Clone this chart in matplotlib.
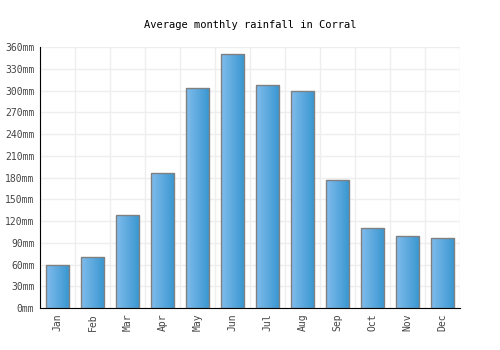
import numpy as np
import matplotlib
matplotlib.use("Agg")
import matplotlib.pyplot as plt
from matplotlib.colors import LinearSegmentedColormap

months = ["Jan", "Feb", "Mar", "Apr", "May", "Jun",
          "Jul", "Aug", "Sep", "Oct", "Nov", "Dec"]
rainfall = [60, 70, 128, 186, 304, 350, 308, 300, 177, 110, 100, 96]
y_ticks = list(range(0, 361, 30))
y_labels = [str(v) + "mm" for v in y_ticks]

plt.rcParams['font.family'] = ['DejaVu Sans Mono']

fig = plt.figure(figsize=(5, 3.5), dpi=100)
ax = fig.add_axes([0.08, 0.12, 0.84, 0.7457])

x = np.arange(len(months))
bars = ax.bar(x, rainfall, width=0.66, color='none', edgecolor='#808080',
              linewidth=1.0, zorder=3)

# horizontal gradient fill for every bar
cmap = LinearSegmentedColormap.from_list("blu", ["#80bcec", "#3896d0"])
grad = np.linspace(0, 1, 64).reshape(1, -1)
for b in bars:
    x0, y0 = b.get_x(), b.get_y()
    w, h = b.get_width(), b.get_height()
    im = ax.imshow(grad, cmap=cmap, aspect='auto', extent=[x0, x0 + w, y0, y0 + h],
                   zorder=2, interpolation='bicubic')
    im.set_clip_path(b)

ax.set_xlim(-0.5, len(months) - 0.5)
ax.set_ylim(0, 360)
ax.set_yticks(y_ticks)
ax.set_yticklabels(y_labels, fontsize=7, color='#444444')
ax.set_xticks(x)
ax.set_xticklabels(months, rotation=90, fontsize=7, color='#444444')

ax.set_xticks(np.arange(-0.5, len(months), 1), minor=True)
ax.grid(True, which='minor', axis='x', color='#eeeeee', linewidth=1, zorder=0)
ax.grid(True, which='major', axis='y', color='#eeeeee', linewidth=1, zorder=0)
ax.tick_params(axis='both', which='both', length=0, pad=4)

for side in ['top', 'right']:
    ax.spines[side].set_visible(False)
ax.spines['left'].set_color('black')
ax.spines['bottom'].set_color('black')

fig.text(0.5, 0.93, "Average monthly rainfall in Corral", ha='center', va='center',
         fontsize=7.5, color='black')

fig.savefig("out.png", dpi=100)
